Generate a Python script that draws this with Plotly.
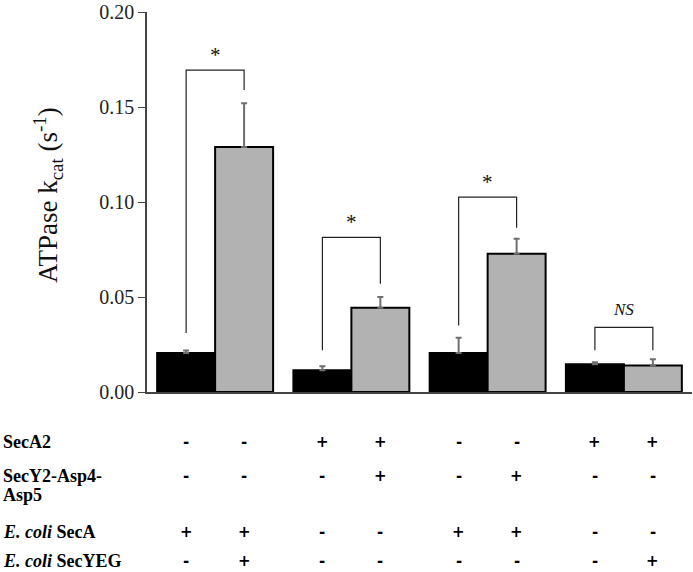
import plotly.graph_objects as go

# ---- data ----
groups = [0, 1, 2, 3]
black_vals = [0.0205, 0.0115, 0.0205, 0.0146]
black_err = [0.0014, 0.0020, 0.0081, 0.0010]
gray_vals = [0.129, 0.0444, 0.0728, 0.0139]
gray_err = [0.023, 0.0056, 0.0079, 0.0033]

# significance brackets (between black and gray bar of each group)
bracket_left_base = [0.031, 0.022, 0.035, 0.022]
bracket_right_base = [0.159, 0.057, 0.0865, 0.022]
bracket_top = [0.1694, 0.0814, 0.1026, 0.034]
bracket_labels = ["*", "*", "*", "<i>NS</i>"]

# condition table
row_labels = ["<b>SecA2</b>", "<b>SecY2-Asp4-</b>", "<b><i>E. coli</i> SecA</b>", "<b><i>E. coli</i> SecYEG</b>"]
row_signs = [
    ["-", "-", "+", "+", "-", "-", "+", "+"],
    ["-", "-", "-", "+", "-", "+", "-", "-"],
    ["+", "+", "-", "-", "+", "+", "-", "-"],
    ["-", "+", "-", "-", "-", "-", "-", "+"],
]
tick_vals = [0.0, 0.05, 0.10, 0.15, 0.20]

# ---- layout geometry ----
W, H = 693, 572
ml, mr, mt, mb = 147, 1, 8, 180
pw, ph = W - ml - mr, H - mt - mb
bargap = 0.149
bw = (1 - bargap) / 2
serif = "Liberation Serif"

def px_to_paper_x(px):
    return (px - ml) / pw

def px_to_paper_y(py):
    return (H - mb - py) / ph

fig = go.Figure()
fig.add_trace(go.Bar(
    x=groups, y=black_vals, marker=dict(color="#000000", line=dict(color="#000000", width=2)),
    error_y=dict(type="data", symmetric=False, array=black_err, arrayminus=[0] * 4,
                 color="#6e6e6e", thickness=2, width=3),
))
fig.add_trace(go.Bar(
    x=groups, y=gray_vals, marker=dict(color="#b2b2b2", line=dict(color="#000000", width=2)),
    error_y=dict(type="data", symmetric=False, array=gray_err, arrayminus=[0] * 4,
                 color="#6e6e6e", thickness=2, width=3),
))

bar_centers = []
for g in groups:
    bar_centers.append(g - bw / 2)
    bar_centers.append(g + bw / 2)

shapes = []
annotations = []
for i, g in enumerate(groups):
    xl, xr = g - bw / 2, g + bw / 2
    shapes.append(dict(
        type="path", xref="x", yref="y",
        path=f"M {xl} {bracket_left_base[i]} L {xl} {bracket_top[i]} L {xr} {bracket_top[i]} L {xr} {bracket_right_base[i]}",
        line=dict(color="#222222", width=1.2),
    ))
    annotations.append(dict(
        x=g, y=bracket_top[i], xref="x", yref="y", text=bracket_labels[i],
        showarrow=False, yanchor="bottom", yshift=1 if i < 3 else 6,
        font=dict(family=serif, size=21 if i < 3 else 17, color="#111111"),
    ))

# y-axis title
annotations.append(dict(
    x=px_to_paper_x(48), y=px_to_paper_y(193), xref="paper", yref="paper",
    text="ATPase k<sub>cat</sub> (s<sup>-1</sup>)", textangle=-90, showarrow=False,
    xanchor="center", yanchor="middle", font=dict(family=serif, size=27, color="#111111"),
))

# table
row_label_py = [443, 477, 533, 563]
sign_py = [443, 477, 533, 563]
for r, lab in enumerate(row_labels):
    annotations.append(dict(
        x=px_to_paper_x(1), y=px_to_paper_y(row_label_py[r]), xref="paper", yref="paper",
        text=lab, showarrow=False, xanchor="left", yanchor="middle",
        font=dict(family=serif, size=18, color="#000000"),
    ))
    for b, s in enumerate(row_signs[r]):
        annotations.append(dict(
            x=bar_centers[b], y=px_to_paper_y(sign_py[r]), xref="x", yref="paper",
            text=f"<b>{s}</b>", showarrow=False, xanchor="center", yanchor="middle",
            font=dict(family="DejaVu Sans", size=15, color="#000000"),
        ))
annotations.append(dict(
    x=px_to_paper_x(1), y=px_to_paper_y(496), xref="paper", yref="paper",
    text="<b>Asp5</b>", showarrow=False, xanchor="left", yanchor="middle",
    font=dict(family=serif, size=18, color="#000000"),
))

fig.update_layout(
    width=W, height=H, margin=dict(l=ml, r=mr, t=mt, b=mb, pad=0),
    paper_bgcolor="white", plot_bgcolor="white",
    barmode="group", bargap=bargap, bargroupgap=0, showlegend=False,
    shapes=shapes, annotations=annotations,
    xaxis=dict(range=[-0.5, 3.5], showticklabels=False, ticks="", showgrid=False, zeroline=False,
               showline=True, linecolor="#444444", linewidth=1.5),
    yaxis=dict(range=[0, 0.2000001], tickvals=tick_vals, tickformat=".2f", ticks="outside", ticklen=7,
               tickcolor="#444444", showgrid=False, zeroline=False, showline=True,
               linecolor="#444444", linewidth=1.5, ticklabeloverflow="allow",
               tickfont=dict(family=serif, size=20, color="#222222")),
)

fig.write_html("out.html", config={"displayModeBar": False},
               post_script="document.body.style.margin='0px';document.body.style.overflow='hidden';")
